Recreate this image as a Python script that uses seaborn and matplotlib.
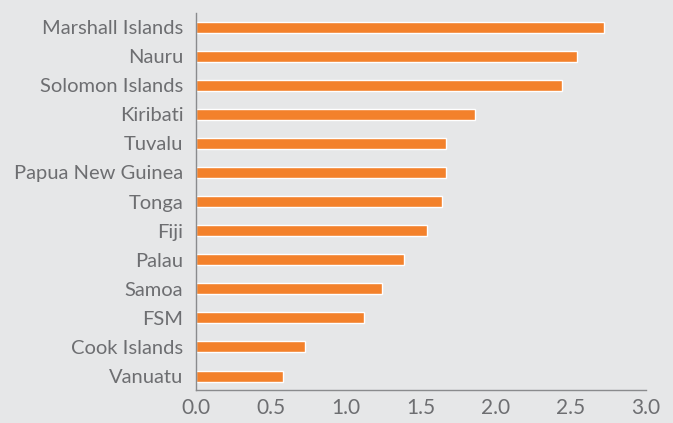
import matplotlib
matplotlib.use("Agg")
import matplotlib.pyplot as plt
import seaborn as sns
import pandas as pd

countries = ["Marshall Islands", "Nauru", "Solomon Islands", "Kiribati", "Tuvalu",
             "Papua New Guinea", "Tonga", "Fiji", "Palau", "Samoa", "FSM",
             "Cook Islands", "Vanuatu"]
values = [2.72, 2.54, 2.44, 1.86, 1.67, 1.67, 1.64, 1.54, 1.39, 1.24, 1.12, 0.73, 0.58]
xticks = [0.0, 0.5, 1.0, 1.5, 2.0, 2.5, 3.0]

bg = "#E6E7E8"
bar_color = "#F3812B"
text_color = "#6D6E71"
spine_color = "#8A8B8D"

sns.set_style("white")
plt.rcParams["font.family"] = ["Lato", "DejaVu Sans"]

df = pd.DataFrame({"country": countries, "value": values})

fig = plt.figure(figsize=(6.73, 4.23), dpi=100, facecolor=bg)
ax = fig.add_axes([0.291, 0.078, 0.669, 0.891])
ax.set_facecolor(bg)

sns.barplot(data=df, x="value", y="country", color=bar_color, width=0.38,
            saturation=1, ax=ax)

ax.set_xlim(0, 3.0)
ax.set_ylim(len(countries) - 1 + 0.48, -0.48)
ax.set_xticks(xticks)
ax.set_xticklabels([f"{t:.1f}" for t in xticks])
ax.set_xlabel("")
ax.set_ylabel("")

for s in ["top", "right"]:
    ax.spines[s].set_visible(False)
for s in ["left", "bottom"]:
    ax.spines[s].set_color(spine_color)
    ax.spines[s].set_linewidth(1.0)

ax.tick_params(axis="x", colors=spine_color, length=5, width=1, direction="out",
               labelsize=15, labelcolor=text_color, pad=1)
ax.tick_params(axis="y", length=0, labelsize=14.5, labelcolor=text_color, pad=9)

fig.savefig("out.png", dpi=100, facecolor=bg)
